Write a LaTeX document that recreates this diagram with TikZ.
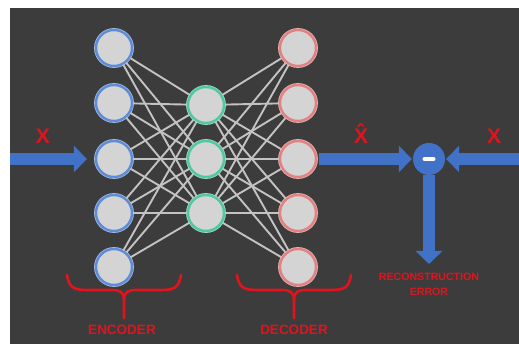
\documentclass[tikz,border=0pt]{standalone}
\usepackage{fontspec}
\setmainfont{Liberation Sans}
\usetikzlibrary{arrows.meta}
\definecolor{panel}{RGB}{60,60,60}
\definecolor{encblue}{RGB}{95,140,215}
\definecolor{midgreen}{RGB}{80,200,160}
\definecolor{decred}{RGB}{225,130,130}
\definecolor{unitfill}{RGB}{212,212,212}
\definecolor{linkgray}{RGB}{195,195,195}
\definecolor{flowblue}{RGB}{66,114,200}
\definecolor{labelred}{RGB}{225,20,30}
\tikzset{
  unit/.style={circle, fill=unitfill, minimum size=36pt, inner sep=0pt, line width=2.4pt},
  enc/.style={draw=encblue, preaction={draw=encblue!55!white, line width=3.8pt}},
  mid/.style={draw=midgreen, preaction={draw=midgreen!55!white, line width=3.8pt}},
  dec/.style={draw=decred, preaction={draw=decred!60!white, line width=3.8pt}},
  link/.style={draw=linkgray, line width=1.9pt},
  flow/.style={draw=flowblue, line width=12pt, -{Triangle[width=26pt,length=13pt]}},
  lbl/.style={text=labelred, font=\bfseries, inner sep=0pt},
  bracestyle/.style={draw=labelred, line width=2.6pt, line cap=round},
  ubrace/.pic={
    \draw[bracestyle] (-57,-15) .. controls (-55,-2) and (-50,0) .. (-36,0)
      -- (-12,0) .. controls (-4,0) and (0,2) .. (0,10) -- (0,28);
    \draw[bracestyle] (57,-15) .. controls (55,-2) and (50,0) .. (36,0)
      -- (12,0) .. controls (4,0) and (0,2) .. (0,10);
  },
  minussign/.style={path picture={
    \draw[white, line width=4pt, line cap=round]
      ([xshift=-4.5pt]path picture bounding box.center) --
      ([xshift=4.5pt]path picture bounding box.center);}}
}
\begin{document}
\begin{tikzpicture}[x=1pt,y=-1pt]
\useasboundingbox (0,0) rectangle (519,344);
\fill[white] (0,0) rectangle (519,344);
\fill[panel] (10,8) rectangle (519,344);

% layers of the network
\foreach \i/\y in {1/48,2/103,3/159,4/213,5/267} {
  \node[unit,enc] (e\i) at (114,\y) {};
  \node[unit,dec] (d\i) at (298,\y) {};
}
\foreach \j/\y in {1/105,2/159,3/213}
  \node[unit,mid] (m\j) at (206,\y) {};

% fully connected links
\foreach \i in {1,...,5}
  \foreach \j in {1,2,3} {
    \draw[link] (e\i) -- (m\j);
    \draw[link] (m\j) -- (d\i);
  }

% difference unit and data flow
\node[circle, fill=flowblue, minimum size=32pt, inner sep=0pt, minussign] (diff) at (429,159) {};
\coordinate (xin) at (10,159);
\coordinate (xref) at (519,159);
\coordinate (errend) at (429,264);
\draw[flow, shorten >=8pt] (xin) -- (e3);
\draw[flow, shorten <=2pt, shorten >=1pt] (d3) -- (diff);
\draw[flow, shorten >=1pt] (xref) -- (diff);
\draw[flow] (diff) -- (errend);

% labels
\node[lbl, font=\bfseries\fontsize{21}{21}\selectfont] (lx) at (43,136) {X};
\node[lbl, font=\bfseries\fontsize{21}{21}\selectfont] (lxhat) at (361,134) {\^{X}};
\node[lbl, font=\bfseries\fontsize{21}{21}\selectfont] (lxr) at (494,136) {X};
\node[lbl, font=\bfseries\fontsize{10.6}{15}\selectfont, align=center] (lerr) at (429,284.5)
  {RECONSTRUCTION\\ERROR};

% braces
\pic at (124,290) {ubrace};
\pic at (294,290) {ubrace};
\node[lbl, font=\bfseries\fontsize{13.5}{13.5}\selectfont] (lenc) at (122,330) {ENCODER};
\node[lbl, font=\bfseries\fontsize{13.5}{13.5}\selectfont] (ldec) at (294,330) {DECODER};
\end{tikzpicture}
\end{document}
